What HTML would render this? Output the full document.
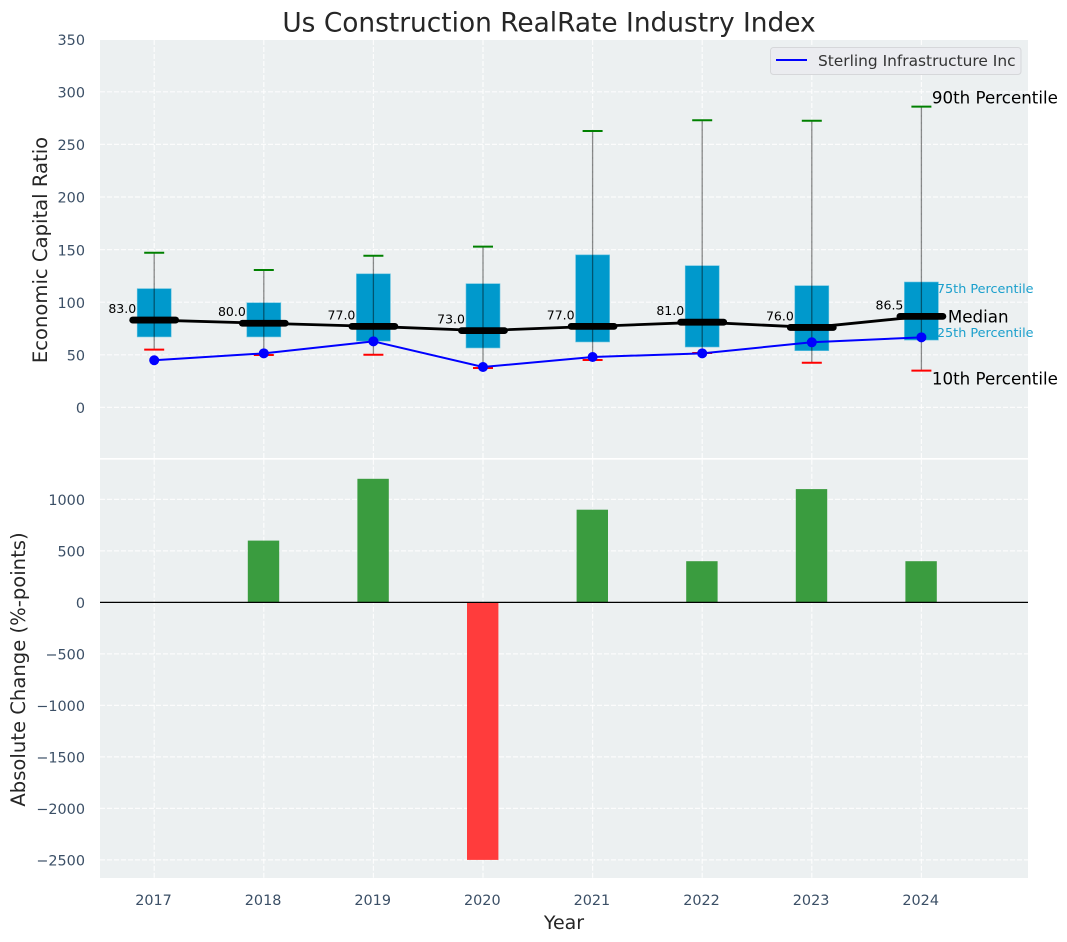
<!DOCTYPE html>
<html lang="en">
<head>
<meta charset="utf-8">
<title>Us Construction RealRate Industry Index</title>
<style>
html,body{margin:0;padding:0;background:#fff;width:1067px;height:942px;overflow:hidden}
svg{display:block}
text{font-family:"DejaVu Sans","Liberation Sans",sans-serif}
</style>
</head>
<body>
<svg id="chart" xmlns="http://www.w3.org/2000/svg" width="1067" height="942" viewBox="0 0 1067 942"></svg>
<script>
const years = [2017, 2018, 2019, 2020, 2021, 2022, 2023, 2024];
const p90 = [147, 130.6, 144.2, 152.8, 262.7, 273, 272.5, 285.9];
const q75 = [112.9, 99.5, 127, 117.6, 145, 134.7, 115.7, 119.2];
const median = [83, 80, 77, 73, 77, 81, 76, 86.5];
const q25 = [67, 67, 63, 56.5, 62.2, 57.4, 53.9, 64];
const p10 = [54.9, 49.8, 50, 37.4, 45, 51.7, 42.5, 34.9];
const company = [44.8, 51.4, 62.8, 38.4, 47.9, 51.4, 61.9, 66.6];
const change = [0, 600, 1200, -2500, 900, 400, 1100, 400];
const topTicks = [0, 50, 100, 150, 200, 250, 300, 350];
const bottomTicks = [-2500, -2000, -1500, -1000, -500, 0, 500, 1000];

const svg = document.getElementById('chart');
const NS = 'http://www.w3.org/2000/svg';
const xScale = v => 154.2 + (v - 2017) * 109.6;
const yTop = v => 407.4 - v * 1.052;
const yBottom = v => 602.4 - v * 0.103;
const TICK = '#3b4f66';
const INK = '#262626';
const BG = '#ecf0f1';

function add(tag, attrs, text) {
  const el = document.createElementNS(NS, tag);
  for (const k in attrs) el.setAttribute(k, attrs[k]);
  if (text !== undefined) el.textContent = text;
  svg.appendChild(el);
  return el;
}
function grid(x1, y1, x2, y2) {
  const el = add('line', {x1, y1, x2, y2, stroke:'#ffffff', 'stroke-width':1.2, 'stroke-dasharray':'5 2', opacity:0.85});
  
  
}

// Panels
const topPanel = add('rect', {x:100, y:40, width:928, height:418, fill:BG});


const bottomPanel = add('rect', {x:100, y:459.7, width:928, height:418.3, fill:BG});



// Grid
topTicks.forEach(t => grid(100, yTop(t), 1028, yTop(t)));
bottomTicks.forEach(t => grid(100, yBottom(t), 1028, yBottom(t)));
years.forEach(y => {
  grid(xScale(y), 40, xScale(y), 458);
  grid(xScale(y), 459.7, xScale(y), 878);
});

// Y tick labels
topTicks.forEach(t => {
  const el = add('text', {x:85, y:yTop(t) + 5.7, 'text-anchor':'end', 'font-size':14.4, fill:TICK}, String(t));
  
  
});
bottomTicks.forEach(t => {
  const label = t < 0 ? '\u2212' + Math.abs(t) : String(t);
  const el = add('text', {x:85, y:yBottom(t) + 5.7, 'text-anchor':'end', 'font-size':14.4, fill:TICK}, label);
  
  
});
years.forEach(y => {
  const el = add('text', {x:xScale(y) - 0.7, y:905, 'text-anchor':'middle', 'font-size':14.4, fill:TICK}, String(y));
  
  
});

// Boxes, whiskers and caps
years.forEach((y, i) => {
  const x = xScale(y);
  const box = add('rect', {x:x - 17, y:yTop(q75[i]), width:34, height:yTop(q25[i]) - yTop(q75[i]), fill:'#0099cc', stroke:'#66c2e0', 'stroke-width':0.6});
  
  
  const whisker = add('line', {x1:x, y1:yTop(p10[i]), x2:x, y2:yTop(p90[i]), stroke:'#000000', 'stroke-opacity':0.45, 'stroke-width':1.3});
  
  
  const capHigh = add('line', {x1:x - 10, y1:yTop(p90[i]), x2:x + 10, y2:yTop(p90[i]), stroke:'#008000', 'stroke-width':2});
  
  
  const capLow = add('line', {x1:x - 10, y1:yTop(p10[i]), x2:x + 10, y2:yTop(p10[i]), stroke:'#ff0000', 'stroke-width':2});
  
  
});

// Median line
const medianLine = add('polyline', {points:years.map((y, i) => xScale(y) + ',' + yTop(median[i])).join(' '), fill:'none', stroke:'#000000', 'stroke-width':2.8});


years.forEach((y, i) => {
  const x = xScale(y);
  const bar = add('line', {x1:x - 21.5, y1:yTop(median[i]), x2:x + 21.5, y2:yTop(median[i]), stroke:'#000000', 'stroke-width':6.8, 'stroke-linecap':'round'});
  
  
  const label = add('text', {x:x - 18, y:yTop(median[i]) - 7, 'text-anchor':'end', 'font-size':12.5, fill:'#000000'}, median[i].toFixed(1));
  
  
});

// Company line
const companyLine = add('polyline', {points:years.map((y, i) => xScale(y) + ',' + yTop(company[i])).join(' '), fill:'none', stroke:'#0000ff', 'stroke-width':2});


years.forEach((y, i) => {
  const dot = add('circle', {cx:xScale(y), cy:yTop(company[i]), r:5, fill:'#0000ff'});
  
  
});

// Change bars
years.forEach((y, i) => {
  const v = change[i];
  if (v === 0) return;
  const top = Math.min(yBottom(v), yBottom(0));
  const bar = add('rect', {x:xScale(y) - 16, y:top, width:31.4, height:Math.abs(yBottom(v) - yBottom(0)), fill:v >= 0 ? '#3a9c3f' : '#ff3c3c'});
  
  
});
const zeroLine = add('line', {x1:100, y1:yBottom(0), x2:1028, y2:yBottom(0), stroke:'#000000', 'stroke-width':1.2});



// Percentile annotations, anchored on the last year
const last = years.length - 1;
const lastX = xScale(years[last]);
const ann90 = add('text', {x:lastX + 10.5, y:yTop(p90[last]) - 3, 'font-size':16.7, fill:'#000000'}, '90th Percentile');


const ann75 = add('text', {x:lastX + 15.5, y:yTop(q75[last]) + 11, 'font-size':12.8, fill:'#1a9fcc'}, '75th Percentile');


const annMed = add('text', {x:lastX + 26.5, y:yTop(median[last]) + 6, 'font-size':16.7, fill:'#000000'}, 'Median');


const ann25 = add('text', {x:lastX + 15.5, y:yTop(q25[last]) - 3, 'font-size':12.8, fill:'#1a9fcc'}, '25th Percentile');


const ann10 = add('text', {x:lastX + 10.5, y:yTop(p10[last]) + 14, 'font-size':16.7, fill:'#000000'}, '10th Percentile');



// Legend
const legendBox = add('rect', {x:770.5, y:47.5, width:250.5, height:27, rx:3, fill:'#ebecf0', stroke:'#d6d7da', 'stroke-width':1});


const legendLine = add('line', {x1:776, y1:60, x2:807, y2:60, stroke:'#0000ff', 'stroke-width':2});


const legendText = add('text', {x:818, y:66, 'font-size':15.4, fill:'#333333'}, 'Sterling Infrastructure Inc');



// Titles
const title = add('text', {x:549, y:31.5, 'text-anchor':'middle', 'font-size':26.4, fill:INK}, 'Us Construction RealRate Industry Index');


const xTitle = add('text', {x:564, y:929, 'text-anchor':'middle', 'font-size':19, fill:INK}, 'Year');


const yTitleTop = add('text', {x:0, y:0, 'text-anchor':'middle', 'font-size':19.6, fill:INK, transform:'translate(47 250) rotate(-90)'}, 'Economic Capital Ratio');


const yTitleBottom = add('text', {x:0, y:0, 'text-anchor':'middle', 'font-size':19.6, fill:INK, transform:'translate(25 669.5) rotate(-90)'}, 'Absolute Change (%-points)');


</script>
</body>
</html>
